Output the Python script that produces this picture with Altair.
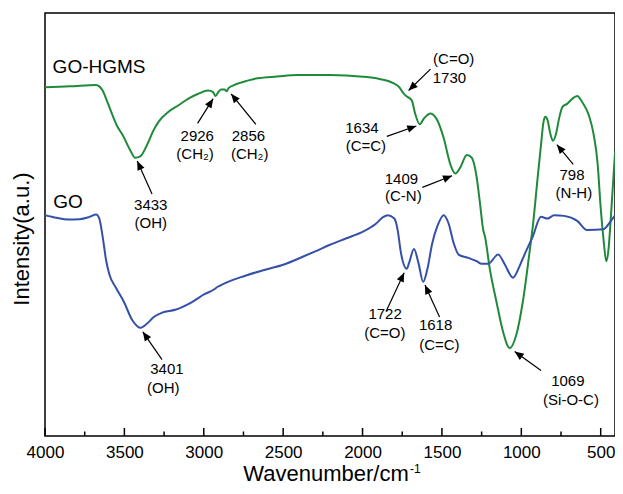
import math
import altair as alt
import pandas as pd

# ---------------- data ----------------
HGMS_WN = [4000, 3844, 3678, 3658, 3637, 3608, 3575, 3545, 3512, 3460, 3433, 3398, 3357, 3315,
           3284, 3222, 3159, 3097, 3035, 2973, 2941, 2926, 2906, 2890, 2869, 2856, 2844, 2806,
           2724, 2661, 2537, 2412, 2205, 1997, 1894, 1810, 1769, 1748, 1730, 1690, 1669, 1640,
           1613, 1572, 1530, 1489, 1447, 1416, 1385, 1343, 1312, 1281, 1260, 1240, 1229, 1198,
           1156, 1115, 1073, 1032, 991, 949, 928, 897, 876, 860, 849, 835, 818, 801, 783, 762,
           741, 710, 679, 648, 617, 575, 544, 519, 502, 482, 465, 451, 436, 420, 409]
HGMS_I = [354.2, 355, 356.5, 355, 350.8, 339.5, 325.8, 314.5, 305.8, 289.2, 282.5, 284.2, 295.8,
          310.8, 319.2, 329.2, 335.8, 342.5, 347.5, 350.8, 349.2, 345.2, 349.8, 351.8, 351.8, 350,
          353.2, 356.5, 360.8, 363.2, 365, 366.5, 366.5, 364.8, 362.5, 358.5, 354.2, 349.2, 345.8,
          340.8, 327.5, 316.5, 322.5, 327.5, 320.8, 302.5, 275.8, 266.5, 272.5, 285.2, 282.5,
          262.5, 235.8, 209.2, 202.5, 169.2, 135.8, 105.8, 89.2, 102.5, 135.8, 185.8, 212.5,
          262.5, 295.8, 319.2, 324.2, 320.8, 307.5, 299.8, 305.8, 322.5, 334.2, 337.5, 342.5,
          345.2, 339.2, 325.8, 305.8, 275.8, 235.8, 199.2, 177.5, 189.2, 222.5, 262.5, 289.2]

GO_WN = [4000, 3927, 3855, 3782, 3720, 3678, 3658, 3637, 3616, 3595, 3554, 3502, 3450, 3419,
         3401, 3357, 3315, 3263, 3180, 3077, 2993, 2931, 2917, 2900, 2848, 2744, 2620, 2495,
         2370, 2298, 2205, 2101, 1997, 1914, 1869, 1841, 1800, 1779, 1758, 1722, 1707, 1676,
         1648, 1618, 1592, 1561, 1530, 1489, 1458, 1426, 1395, 1333, 1281, 1250, 1209, 1146,
         1104, 1053, 1011, 980, 928, 876, 835, 793, 731, 648, 586, 482, 440, 409]
GO_I = [224.2, 221.5, 219.8, 220.2, 222.5, 224.8, 220.8, 202.5, 179.2, 164.2, 150.8, 135.8, 117.5,
        111.5, 109.8, 114.2, 120.8, 125.2, 128.2, 135.8, 144.2, 149.2, 151, 152.5, 156.5, 162.5,
        168.5, 174.2, 182.5, 187.5, 194.2, 200.8, 207.5, 215.8, 222.5, 224.2, 220.8, 209.2,
        185.8, 169.8, 175.8, 189.8, 175.8, 156.5, 169.2, 195.8, 212.5, 224.2, 215.8, 195.8,
        184.2, 180.8, 177.5, 174.8, 174.8, 184.2, 174.2, 160.8, 172.5, 184.2, 202.5, 222.5,
        220.8, 224.2, 223.5, 218.5, 209.2, 210, 217.5, 224.2]

SERIES_NAMES = ["GO-HGMS", "GO"]
SERIES_LABEL_WN = [3952, 3948]
SERIES_LABEL_I = [368.5, 231.8]

# peak annotations: text lines and arrows
LABEL_TEXT = ["2926", "(CH₂)", "2856", "(CH₂)", "3433", "(OH)", "(C=O)", "1730",
              "1634", "(C=C)", "1409", "(C-N)", "798", "(N-H)", "3401", "(OH)",
              "1722", "(C=O)", "1618", "(C=C)", "1069", "(Si-O-C)"]
LABEL_WN = [3041, 3055, 2719, 2711, 3334, 3334, 1426, 1453,
            2004, 1979, 1755, 1743, 681, 669, 3232, 3255,
            1858, 1860, 1540, 1516, 707, 687]
LABEL_I = [299.5, 281.5, 299.5, 281.5, 229.8, 211.5, 377.5, 358.5,
           308, 289.2, 255.8, 238.2, 259.8, 241.5, 62.5, 43.2,
           119.2, 99.8, 107.5, 87.5, 50.8, 31.8]

ARROW_TAIL_WN = [3039, 2672, 3326, 1572, 1847, 1623, 673, 3263, 1852, 1515, 876]
ARROW_TAIL_I = [317.5, 316.5, 245.8, 372.5, 304.2, 252.5, 275.8, 77.5, 126.5, 120.8, 66.5]
ARROW_HEAD_WN = [2941, 2828, 3419, 1710, 1661, 1436, 776, 3384, 1738, 1607, 1042]
ARROW_HEAD_I = [342.5, 347.5, 279.2, 350.8, 314.8, 264.2, 295.8, 105.8, 165.8, 153.2, 85.8]

TICK_MAJOR = [4000, 3500, 3000, 2500, 2000, 1500, 1000, 500]
TICK_MINOR = [3750, 3250, 2750, 2250, 1750, 1250, 750]

# ---------------- styling ----------------
W, H = 570, 423
X_DOM = [4000, 410]
Y_DOM = [0, 429.5]
FONT = "Liberation Sans"
GREEN = "#1f8b3a"
BLUE = "#3450a8"

xs = alt.Scale(domain=X_DOM, nice=False, zero=False)
ys = alt.Scale(domain=Y_DOM, nice=False, zero=False)

spec = pd.DataFrame({
    "wn": HGMS_WN + GO_WN,
    "inten": HGMS_I + GO_I,
    "series": ["GO-HGMS"] * len(HGMS_WN) + ["GO"] * len(GO_WN),
})

kx = W / (X_DOM[0] - X_DOM[1])
ky = H / (Y_DOM[1] - Y_DOM[0])
angles = []
for tw, ti, hw, hi in zip(ARROW_TAIL_WN, ARROW_TAIL_I, ARROW_HEAD_WN, ARROW_HEAD_I):
    dx = (tw - hw) * kx
    dy = -(hi - ti) * ky
    angles.append(math.degrees(math.atan2(dx, -dy)) % 360)
arrows = pd.DataFrame({"tw": ARROW_TAIL_WN, "ti": ARROW_TAIL_I,
                       "hw": ARROW_HEAD_WN, "hi": ARROW_HEAD_I, "ang": angles})
labels = pd.DataFrame({"wn": LABEL_WN, "inten": LABEL_I, "text": LABEL_TEXT})
series_lab = pd.DataFrame({"wn": SERIES_LABEL_WN, "inten": SERIES_LABEL_I, "text": SERIES_NAMES})
ticks = pd.DataFrame({"wn": TICK_MAJOR + TICK_MINOR,
                      "kind": ["major"] * len(TICK_MAJOR) + ["minor"] * len(TICK_MINOR)})

x_axis = alt.Axis(values=TICK_MAJOR, format="d", ticks=False, tickSize=0, domain=False,
                  grid=False, title=None, labelFont=FONT, labelFontSize=17,
                  labelColor="#000", labelPadding=8, labelFlush=False)

lines = alt.Chart(spec).mark_line(strokeWidth=2, clip=True, interpolate="monotone").encode(
    x=alt.X("wn:Q", scale=xs, axis=x_axis),
    y=alt.Y("inten:Q", scale=ys, axis=None),
    color=alt.Color("series:N", scale=alt.Scale(domain=SERIES_NAMES, range=[GREEN, BLUE]), legend=None),
    detail="series:N",
)

major = alt.Chart(ticks[ticks.kind == "major"]).mark_rule(color="#000", strokeWidth=1.5).encode(
    x=alt.X("wn:Q", scale=xs), y=alt.value(H), y2=alt.value(H - 8))
minor = alt.Chart(ticks[ticks.kind == "minor"]).mark_rule(color="#000", strokeWidth=1.5).encode(
    x=alt.X("wn:Q", scale=xs), y=alt.value(H), y2=alt.value(H - 4.5))

shafts = alt.Chart(arrows).mark_rule(color="#000", strokeWidth=1.2).encode(
    x=alt.X("tw:Q", scale=xs), y=alt.Y("ti:Q", scale=ys), x2="hw:Q", y2="hi:Q")
heads = alt.Chart(arrows).mark_point(
    shape="M0,0L0.42,1L-0.42,1Z", filled=True, color="#000", opacity=1, size=330
).encode(x=alt.X("hw:Q", scale=xs), y=alt.Y("hi:Q", scale=ys), angle=alt.Angle("ang:Q", scale=None))

ann = alt.Chart(labels).mark_text(font=FONT, fontSize=15, color="#000", align="center",
                                  baseline="alphabetic").encode(
    x=alt.X("wn:Q", scale=xs), y=alt.Y("inten:Q", scale=ys), text="text:N")
names = alt.Chart(series_lab).mark_text(font=FONT, fontSize=19, color="#000", align="left",
                                        baseline="alphabetic").encode(
    x=alt.X("wn:Q", scale=xs), y=alt.Y("inten:Q", scale=ys), text="text:N")

ytitle = alt.Chart(pd.DataFrame({"t": ["Intensity(a.u.)"]})).mark_text(
    font=FONT, fontSize=22, color="#000", angle=270, align="center", baseline="alphabetic"
).encode(x=alt.value(-16.5), y=alt.value(226), text="t:N")
xtitle = alt.Chart(pd.DataFrame({"t": ["Wavenumber/cm"]})).mark_text(
    font=FONT, fontSize=22, color="#000", align="center", baseline="alphabetic"
).encode(x=alt.value(281), y=alt.value(468), text="t:N")
xsup = alt.Chart(pd.DataFrame({"t": ["-1"]})).mark_text(
    font=FONT, fontSize=12, color="#000", align="left", baseline="alphabetic"
).encode(x=alt.value(365), y=alt.value(459.5), text="t:N")

chart = alt.layer(lines, major, minor, shafts, heads, ann, names, ytitle, xtitle, xsup).properties(
    width=W, height=H,
    autosize=alt.AutoSizeParams(type="none"),
    padding={"left": 37, "top": 5, "right": 0, "bottom": 50},
    background="white",
).configure_view(stroke="#000", strokeWidth=1.5)

chart.save("out.html", embed_options={"renderer": "svg", "actions": False})
